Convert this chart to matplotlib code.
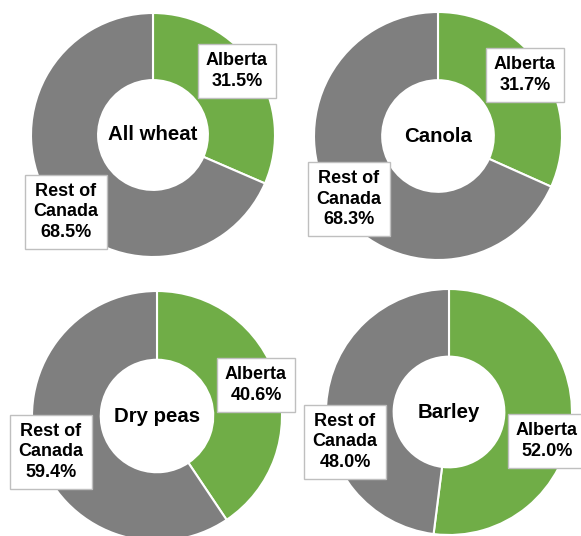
import matplotlib.pyplot as plt

# data
crops = ["All wheat", "Canola", "Dry peas", "Barley"]
alberta = [31.5, 31.7, 40.6, 52.0]
rest = [68.5, 68.3, 59.4, 48.0]

green = "#70AD47"
grey = "#7F7F7F"

# layout in pixels measured from the top-left corner
W, H = 581, 536
centres = [(153, 135), (438, 136), (157, 416), (449, 412)]
radius = [122, 124, 125, 123]
hole = 0.45
alb_pos = [(237, 71), (525, 75), (256, 385), (547, 441)]
rest_pos = [(66, 212), (349, 199), (51, 452), (345, 442)]

plt.rcParams["font.family"] = ["Liberation Sans", "DejaVu Sans"]

fig = plt.figure(figsize=(W / 100, H / 100), dpi=100)
ax = fig.add_axes([0, 0, 1, 1])
ax.set_xlim(0, W)
ax.set_ylim(0, H)
ax.set_aspect("equal")
ax.axis("off")

box = dict(boxstyle="square,pad=0.45", facecolor="white", edgecolor="#BFBFBF", linewidth=1)

for i, crop in enumerate(crops):
    cx, cy = centres[i]
    r = radius[i]
    ax.pie([alberta[i], rest[i]], colors=[green, grey], startangle=90, counterclock=False,
           center=(cx, H - cy), radius=r,
           wedgeprops=dict(width=r * (1 - hole), edgecolor="white", linewidth=1.5))
    ax.text(cx, H - cy, crop, ha="center", va="center", fontsize=14.7, fontweight="bold")
    ax.text(alb_pos[i][0], H - alb_pos[i][1], f"Alberta\n{alberta[i]:.1f}%", ha="center",
            va="center", fontsize=13, fontweight="bold", linespacing=1.25, bbox=box)
    ax.text(rest_pos[i][0], H - rest_pos[i][1], f"Rest of\nCanada\n{rest[i]:.1f}%", ha="center",
            va="center", fontsize=13, fontweight="bold", linespacing=1.25, bbox=box)

ax.set_xlim(0, W)
ax.set_ylim(0, H)
fig.savefig("out.png", dpi=100)
